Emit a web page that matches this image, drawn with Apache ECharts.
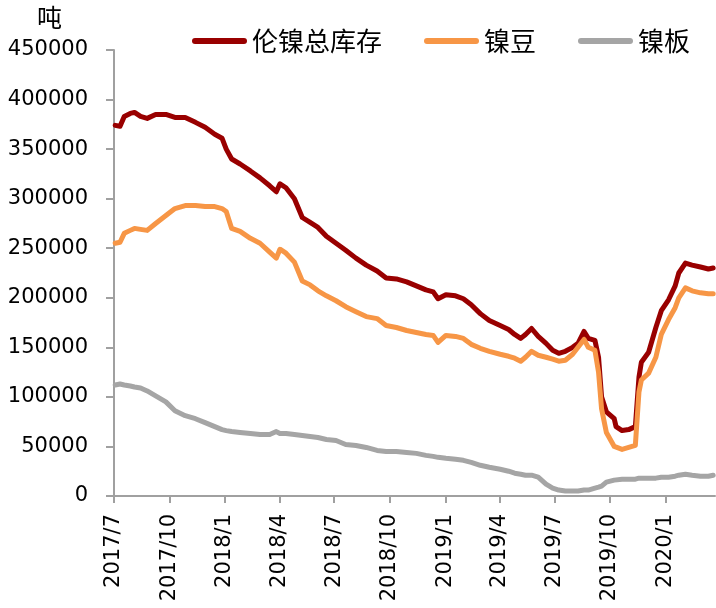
<!DOCTYPE html>
<html>
<head>
<meta charset="utf-8">
<script src="https://cdn.jsdelivr.net/npm/echarts@6/dist/echarts.min.js"></script>
<style>
    html, body { margin: 0; padding: 0; background: #fff; }
    #chart { width: 716px; height: 608px; }
</style>
</head>
<body>
<div id="chart"></div>
<script>
// sample dates
const dates = [
    '2017-07-03', '2017-07-11', '2017-07-18', '2017-07-28', '2017-08-04', '2017-08-14', '2017-08-25', '2017-09-08',
    '2017-09-25', '2017-10-10', '2017-10-27', '2017-11-13', '2017-11-29', '2017-12-15', '2017-12-27',
    '2018-01-03', '2018-01-12', '2018-01-26', '2018-02-12', '2018-02-28', '2018-03-16', '2018-03-27', '2018-04-02',
    '2018-04-12', '2018-04-26', '2018-05-09', '2018-05-22', '2018-06-04', '2018-06-18', '2018-07-04', '2018-07-20',
    '2018-08-06', '2018-08-23', '2018-09-10', '2018-09-25', '2018-10-12', '2018-10-29', '2018-11-14', '2018-11-30',
    '2018-12-12', '2018-12-20',
    '2019-01-02', '2019-01-18', '2019-01-31', '2019-02-13', '2019-02-28', '2019-03-15', '2019-04-02', '2019-04-16',
    '2019-04-26', '2019-05-06', '2019-05-14', '2019-05-24', '2019-06-04', '2019-06-17', '2019-06-28', '2019-07-08',
    '2019-07-19', '2019-07-31', '2019-08-09', '2019-08-19', '2019-08-26', '2019-09-06', '2019-09-12', '2019-09-17',
    '2019-09-25', '2019-10-08', '2019-10-11', '2019-10-21', '2019-11-01', '2019-11-12', '2019-11-15', '2019-11-18',
    '2019-11-22', '2019-12-04', '2019-12-16', '2019-12-25',
    '2020-01-06', '2020-01-17', '2020-01-23', '2020-02-03', '2020-02-14', '2020-02-28', '2020-03-12', '2020-03-20'
];

// 伦镍总库存
const totalStock = [
    374000, 373000, 383000, 386000, 387000, 383000, 381000, 385000, 385000, 382000, 382000, 377000, 372000, 365000, 361000,
    350000, 340000, 335000, 328000, 321000, 313000, 307000, 315000, 311000, 300000, 281000, 276000, 271000, 262000,
    255000, 248000, 240000, 233000, 227000, 220000, 219000, 216000, 212000, 208000, 206000, 199000,
    203000, 202000, 199000, 193000, 184000, 177000, 172000, 168000, 163000, 159000, 163000, 169000, 161000, 154000,
    147000, 144000, 146000, 150000, 154000, 166000, 159000, 157000, 140000, 100000, 85000, 78000, 70000, 66000,
    67000, 70000, 70000, 120000, 135000, 145000, 170000, 187000,
    198000, 212000, 225000, 235000, 233000, 231000, 229000, 230000
];

// 镍豆
const briquette = [
    255000, 256000, 265000, 268000, 270000, 269000, 268000, 275000, 283000, 290000, 293000, 293000, 292000, 292000, 290000,
    287000, 270000, 267000, 260000, 255000, 246000, 240000, 249000, 245000, 236000, 217000, 213000, 207000, 202000,
    197000, 191000, 186000, 181000, 179000, 172000, 170000, 167000, 165000, 163000, 162000, 155000,
    162000, 161000, 159000, 153000, 149000, 146000, 143000, 141000, 139000, 136000, 140000, 146000, 142000, 140000,
    138000, 136000, 137000, 143000, 150000, 158000, 150000, 147000, 125000, 88000, 64000, 50000, 48000, 47000,
    49000, 51000, 52000, 105000, 117000, 124000, 140000, 163000,
    178000, 190000, 200000, 210000, 207000, 205000, 204000, 204000
];

// 镍板
const cathode = [
    112000, 113000, 112000, 111000, 110000, 109000, 106000, 101000, 95000, 86000, 81000, 78000, 74000, 70000, 67000,
    66000, 65000, 64000, 63000, 62000, 62000, 65000, 63000, 63000, 62000, 61000, 60000, 59000, 57000,
    56000, 52000, 51000, 49000, 46000, 45000, 45000, 44000, 43000, 41000, 40000, 39000,
    38000, 37000, 36000, 34000, 31000, 29000, 27000, 25000, 23000, 22000, 21000, 21000, 19000, 12000,
    8000, 6000, 5000, 5000, 5000, 6000, 6000, 8000, 9000, 10000, 14000, 16000, 16000, 17000,
    17000, 17000, 18000, 18000, 18000, 18000, 18000, 19000,
    19000, 20000, 21000, 22000, 21000, 20000, 20000, 21000
];

const seriesNames = ['伦镍总库存', '镍豆', '镍板'];
const colors = ['#990000', '#F79646', '#A5A5A5'];

// calendar days for the x axis
const axisStart = '2017-07-01';
const axisEnd = '2020-03-23';
const days = [];
for (let t = Date.parse(axisStart); t <= Date.parse(axisEnd); t += 86400000) {
    days.push(new Date(t).toISOString().slice(0, 10));
}

const isQuarterStart = (idx, val) => {
    const m = val.slice(5, 7);
    return val.slice(8) === '01' && (m === '01' || m === '04' || m === '07' || m === '10');
};

const axisColor = '#A0A0A0';
const numFont = 'DejaVu Sans';
const cjkFont = 'Noto Sans CJK SC';

const chart = echarts.init(document.getElementById('chart'));

chart.setOption({
    animation: false,
    color: colors,
    grid: { left: 114, right: 1, top: 50, bottom: 112 },
    legend: {
        left: 192,
        top: 28,
        padding: 0,
        itemWidth: 55,
        itemHeight: 6,
        itemGap: 42,
        icon: 'path://M3 0H52A3 3 0 0 1 52 6H3A3 3 0 0 1 3 0Z',
        textStyle: { fontFamily: cjkFont, fontSize: 26, color: '#000' },
        data: seriesNames
    },
    graphic: [
        {
            type: 'text',
            left: 37,
            top: 5,
            style: { text: '吨', font: '25px "Noto Sans CJK SC"', fill: '#000' }
        }
    ],
    xAxis: {
        type: 'category',
        data: days,
        boundaryGap: false,
        axisLine: { lineStyle: { color: axisColor, width: 2 } },
        axisTick: { show: true, interval: isQuarterStart, length: 7, lineStyle: { color: axisColor, width: 2 } },
        axisLabel: {
            interval: isQuarterStart,
            rotate: 90,
            margin: 18,
            fontFamily: numFont,
            fontSize: 21,
            color: '#000',
            formatter: v => `${v.slice(0, 4)}/${parseInt(v.slice(5, 7), 10)}`
        },
        splitLine: { show: false }
    },
    yAxis: {
        type: 'value',
        min: 0,
        max: 450000,
        interval: 50000,
        axisLine: { show: true, lineStyle: { color: axisColor, width: 2 } },
        axisTick: { show: true, length: 8, lineStyle: { color: axisColor, width: 2 } },
        axisLabel: { margin: 26, fontFamily: numFont, fontSize: 21, color: '#000', formatter: v => String(v) },
        splitLine: { show: false }
    },
    series: [totalStock, briquette, cathode].map((vals, i) => ({
        name: seriesNames[i],
        type: 'line',
        symbol: 'none',
        showSymbol: false,
        clip: false,
        data: dates.map((d, j) => [d, vals[j]]),
        lineStyle: { width: 5, color: colors[i], cap: 'round', join: 'round' }
    }))
});
</script>
</body>
</html>
